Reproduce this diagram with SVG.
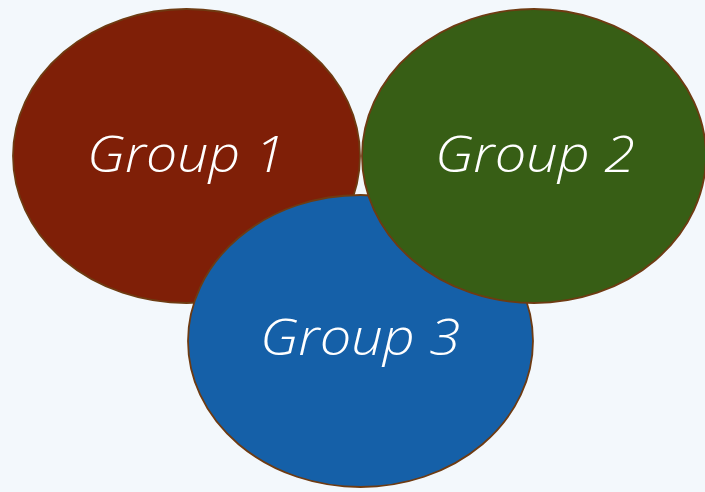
<svg xmlns="http://www.w3.org/2000/svg" width="705" height="492" viewBox="0 0 705 492">
<style>
.e{stroke:#6e3b12;stroke-width:1.8}
.t{fill:#ffffff;font-family:"Open Sans","DejaVu Sans",sans-serif;font-style:italic;font-weight:300;font-size:50px;text-anchor:middle}
</style>
<rect width="705" height="492" fill="#f3f8fc"/>
<g id="group1">
<ellipse class="e" cx="186.5" cy="156" rx="173.5" ry="147" fill="#7f1f07"/>
<text class="t" x="186" y="172" textLength="198" lengthAdjust="spacingAndGlyphs">Group 1</text>
</g>
<g id="group3">
<ellipse class="e" cx="360.5" cy="341" rx="172.5" ry="146" fill="#1560a8"/>
<text class="t" x="360" y="355" textLength="200" lengthAdjust="spacingAndGlyphs">Group 3</text>
</g>
<g id="group2">
<ellipse class="e" cx="534" cy="156" rx="172" ry="147" fill="#375e15"/>
<text class="t" x="535" y="172" textLength="200" lengthAdjust="spacingAndGlyphs">Group 2</text>
</g>
<g id="connectors"/>
</svg>
